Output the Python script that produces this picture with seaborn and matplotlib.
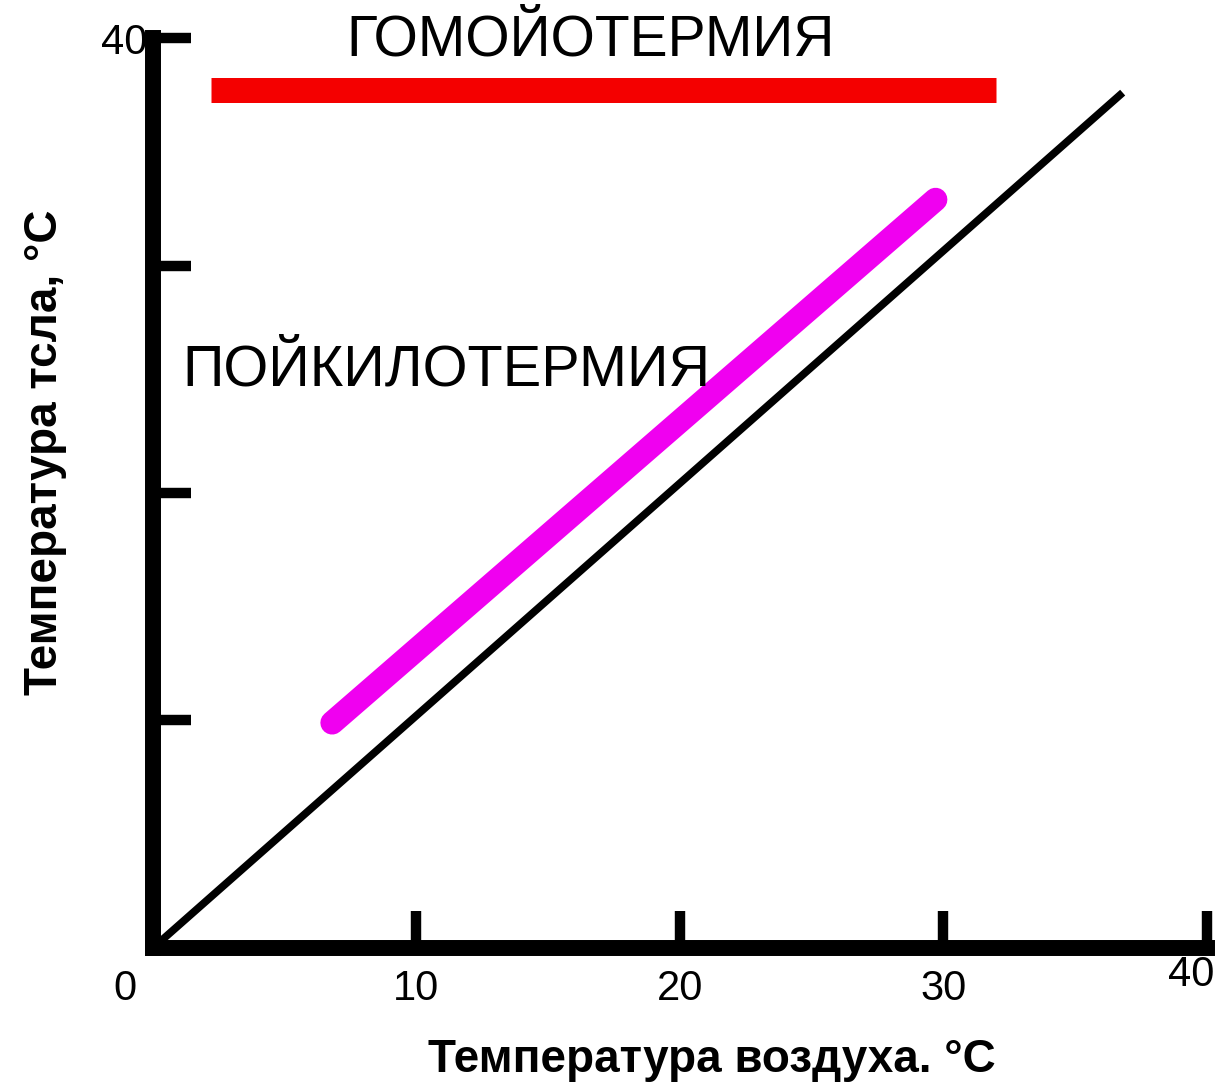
import matplotlib
matplotlib.use("Agg")
import matplotlib.pyplot as plt
import matplotlib.transforms as mtransforms
import seaborn as sns

sns.set_theme(style="white")
plt.rcParams["font.family"] = ["Liberation Sans", "DejaVu Sans"]
plt.rcParams["text.color"] = "black"

# Temperature ranges (°C): air temperature vs. body temperature
homeo_air = [2.2, 32.0]
homeo_body = [37.7, 37.7]
poikilo_air = [6.8, 29.7]
poikilo_body = [9.9, 32.9]
equal_air = [0.0, 36.8]
equal_body = [0.0, 37.6]

x_ticks = [0, 10, 20, 30, 40]
x_tick_labels = ["0", "10", "20", "30", "40"]
y_ticks = [10, 20, 30, 40]
y_tick_labels = ["", "", "", "40"]

fig = plt.figure(figsize=(12.16, 10.87), dpi=100)
ax = fig.add_axes([0.1258, 0.1279, 0.8668, 0.8371])

# Line where body temperature equals air temperature
sns.lineplot(x=equal_air, y=equal_body, ax=ax, color="black", linewidth=5.5,
             solid_capstyle="butt", zorder=2)
# Homeothermy: constant body temperature
sns.lineplot(x=homeo_air, y=homeo_body, ax=ax, color="#f40000", linewidth=18,
             solid_capstyle="butt", zorder=3)
# Poikilothermy: body temperature follows the air
sns.lineplot(x=poikilo_air, y=poikilo_body, ax=ax, color="#f000f0", linewidth=17,
             solid_capstyle="round", zorder=3)

ax.set_xlim(0, 40)
ax.set_ylim(0, 40)

for side in ("top", "right"):
    ax.spines[side].set_visible(False)
for side in ("left", "bottom"):
    ax.spines[side].set_linewidth(11.5)
    ax.spines[side].set_color("black")
    ax.spines[side].set_capstyle("projecting")

ax.set_xticks(x_ticks, x_tick_labels)
ax.set_yticks(y_ticks, y_tick_labels)
ax.tick_params(axis="both", which="major", bottom=True, left=True,
               direction="in", length=27, width=7.5, color="black",
               labelsize=30, labelcolor="black")
ax.tick_params(axis="x", pad=15)
ax.tick_params(axis="y", pad=4)

# Nudge the origin label left of the corner and the last label inside the figure
xlabels = ax.get_xticklabels()
xlabels[0].set_transform(xlabels[0].get_transform() +
                         mtransforms.ScaledTranslation(-0.28, 0, fig.dpi_scale_trans))
xlabels[-1].set_transform(xlabels[-1].get_transform() +
                          mtransforms.ScaledTranslation(-0.16, 0.14, fig.dpi_scale_trans))

ax.set_xlabel("Температура воздуха. °С", fontsize=33, fontweight="bold",
              color="black")
ax.set_ylabel("Температура тсла, °С", fontsize=33, fontweight="bold",
              color="black")
ax.xaxis.set_label_coords(0.530, -0.099)
ax.yaxis.set_label_coords(-0.082, 0.545)

ax.text(16.6, 39.9, "ГОМОЙОТЕРМИЯ", fontsize=41, ha="center", va="center",
        color="black")
ax.text(1.1, 25.4, "ПОЙКИЛОТЕРМИЯ", fontsize=41.5, ha="left", va="center",
        color="black")

fig.savefig("out.png", dpi=100, facecolor="white")
